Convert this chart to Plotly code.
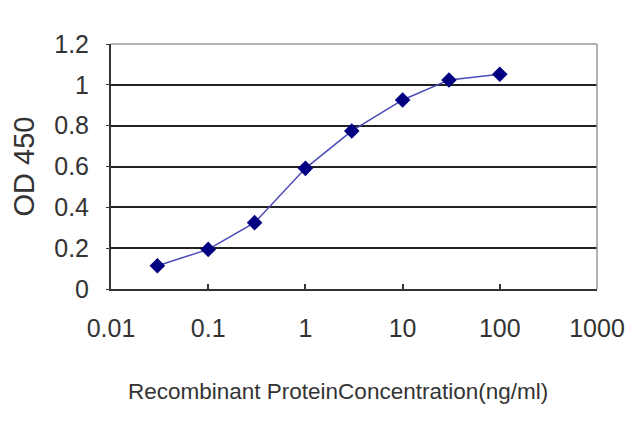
import plotly.graph_objects as go

conc = [0.03, 0.1, 0.3, 1, 3, 10, 30, 100]
od = [0.114, 0.194, 0.325, 0.591, 0.774, 0.926, 1.024, 1.052]
x_ticks = [0.01, 0.1, 1, 10, 100, 1000]
x_tick_labels = ["0.01", "0.1", "1", "10", "100", "1000"]
y_ticks = [0, 0.2, 0.4, 0.6, 0.8, 1, 1.2]
y_tick_labels = ["0", "0.2", "0.4", "0.6", "0.8", "1", "1.2"]

fig = go.Figure()
fig.add_trace(go.Scatter(
    x=conc, y=od, mode="lines+markers",
    line=dict(color="#4a4ab8", width=1.5),
    marker=dict(symbol="diamond", size=12, color="#000080"),
    showlegend=False,
))

font = "Liberation Sans, Arial, sans-serif"
fig.update_layout(
    width=640, height=427,
    margin=dict(l=103, r=51, t=36, b=146),
    paper_bgcolor="white", plot_bgcolor="white",
    font=dict(family=font, color="#333333"),
    xaxis=dict(
        type="log", range=[-2, 3], automargin=False,
        tickvals=x_ticks, ticktext=x_tick_labels,
        tickfont=dict(size=25, color="#333333"),
        showgrid=False, zeroline=False,
        showline=True, linecolor="#333333", linewidth=2,
        ticks="inside", ticklen=5, tickcolor="#333333", tickwidth=1.5,
        ticklabelstandoff=16,
    ),
    yaxis=dict(
        range=[0, 1.2], automargin=False,
        tickvals=y_ticks, ticktext=y_tick_labels,
        tickfont=dict(size=25, color="#333333"),
        showgrid=True, gridcolor="#222222", gridwidth=1.5,
        zeroline=False,
        showline=True, linecolor="#333333", linewidth=2,
        ticks="outside", ticklen=3, tickcolor="#333333",
        ticklabelstandoff=12,
        title=dict(text="OD 450", font=dict(size=29, color="#333333"), standoff=17),
    ),
    annotations=[
        dict(text="Recombinant ProteinConcentration(ng/ml)",
             xref="paper", yref="paper", x=0.468, y=-0.42,
             xanchor="center", yanchor="middle", showarrow=False,
             font=dict(size=22.5, color="#333333")),
    ],
    shapes=[
        dict(type="line", xref="paper", yref="paper", x0=0, x1=1, y0=1, y1=1,
             line=dict(color="#999999", width=1.5)),
        dict(type="line", xref="paper", yref="paper", x0=1, x1=1, y0=0, y1=1,
             line=dict(color="#999999", width=1.5)),
    ],
)

fig.write_html("out.html")
